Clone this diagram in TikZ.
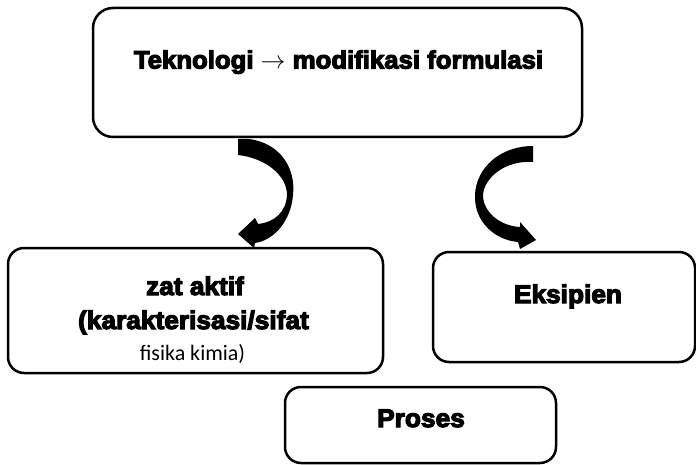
\documentclass[tikz,border=0pt]{standalone}
\usepackage{fontspec}
\newfontfamily\blkfont{Liberation Sans}[FakeStretch=1.03, FakeBold=4.5, BoldFeatures={FakeBold=4.5}]
\newfontfamily\calibfont{Carlito}
\begin{document}
\begin{tikzpicture}[x=1pt,y=-1pt,
  box/.style={draw=black, line width=2.5pt, rounded corners=16pt, inner sep=0pt, fill=white},
  heavy/.style={font=\blkfont\bfseries\fontsize{25.5}{30}\selectfont, anchor=base, inner sep=0pt},
  light/.style={font=\calibfont\fontsize{22}{26}\selectfont, anchor=base, inner sep=0pt},
  blockarrow/.style={fill=black, draw=none}]
\useasboundingbox (0,0) rectangle (696,465);
% boxes
\node[box, rounded corners=20pt, minimum width=489pt, minimum height=129pt] (top) at (337.5,72.5) {};
\node[box, minimum width=375pt, minimum height=125pt] (aktif) at (195.5,310.5) {};
\node[box, minimum width=262pt, minimum height=110pt] (eksip) at (564,307) {};
\node[box, minimum width=271pt, minimum height=76pt] (proses) at (420.5,425) {};
% texts
\node[heavy, font=\blkfont\bfseries\fontsize{25}{30}\selectfont] (ttop) at (338.5,68.5) {Teknologi {\normalfont\mdseries$\rightarrow$} modifikasi formulasi};
\node[heavy] (t1) at (195,295) {zat aktif};
\node[heavy] (t2) at (193.5,329) {(karakterisasi/sifat};
\node[light] (t3) at (192.5,360) {fisika kimia)};
\node[heavy] (teks) at (568,303) {Eksipien};
\node[heavy] (tpro) at (421,427) {Proses};
% curved block arrows
\fill[blockarrow] (238,139) -- (249,139)
  .. controls (280,143) and (296,168) .. (293,195)
  .. controls (291,220) and (275,240) .. (255,243)
  -- (254,248) -- (238,234) -- (255,218) -- (258,224)
  .. controls (275,222) and (286,212) .. (287,195)
  .. controls (287,175) and (265,158) .. (238,155) -- cycle;
\fill[blockarrow] (533,146) -- (533,162)
  .. controls (505,160) and (484,178) .. (483,195)
  .. controls (483,212) and (500,226) .. (520,227)
  -- (520,222) -- (536,240) -- (520,249) -- (518,242)
  .. controls (495,240) and (474,222) .. (475,195)
  .. controls (476,168) and (500,146) .. (533,146) -- cycle;
\end{tikzpicture}
\end{document}
